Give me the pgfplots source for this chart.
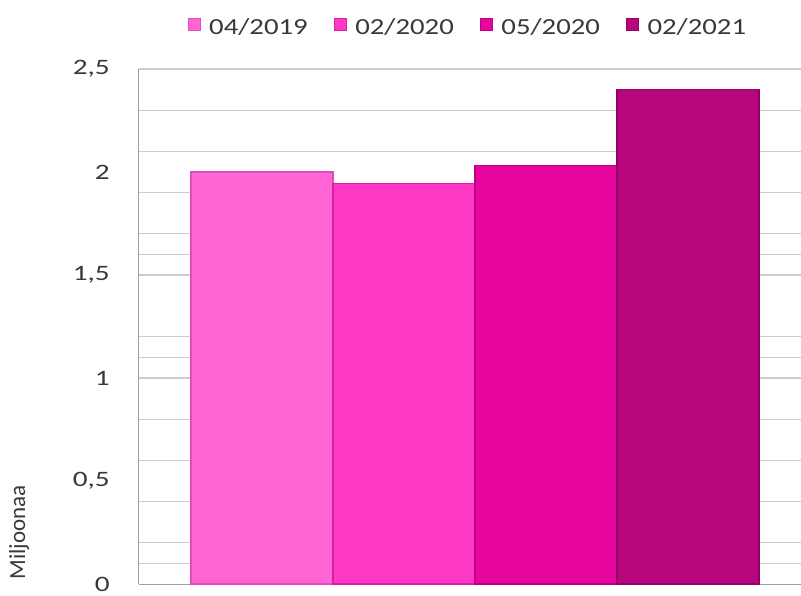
\documentclass[border=0pt]{standalone}
\usepackage{pgfplots}
\pgfplotsset{compat=1.18}
\usepackage{fontspec}
\setmainfont{Carlito}[FakeStretch=1.25]
\newfontfamily\tickfont{Carlito}[FakeStretch=1.33]
\newfontfamily\plainfont{Carlito}
\definecolor{c1}{HTML}{FF66D4}
\definecolor{c1d}{HTML}{E04CB8}
\definecolor{c2}{HTML}{FF38C6}
\definecolor{c2d}{HTML}{D8209E}
\definecolor{c3}{HTML}{E6069F}
\definecolor{c3d}{HTML}{C00084}
\definecolor{c4}{HTML}{B8067F}
\definecolor{c4d}{HTML}{950066}
\definecolor{txt}{HTML}{383838}
\definecolor{gridc}{HTML}{CDCDCD}
\begin{document}
\begin{tikzpicture}
\begin{axis}[
  at={(0,0)}, anchor=south west,
  scale only axis, width=662bp, height=515bp,
  xmin=0.134, xmax=4.796, ymin=0, ymax=2.5,
  axis x line*=bottom, axis y line*=left,
  axis line style={draw=gray!75, line width=1bp},
  xtick=\empty,
  ytick={0,0.5,1,1.5,2,2.5},
  yticklabels={0,{0,5},1,{1,5},2,{2,5}},
  minor ytick={0.1,0.2,0.4,0.6,0.8,1.0,1.1,1.2,1.5,1.6,1.7,1.9,2.1,2.3,2.5},
  yminorgrids=true, ymajorgrids=false,
  minor grid style={draw=gridc, line width=1.3bp},
  major tick length=0pt, minor tick length=0pt,
  yticklabel style={font=\tickfont\fontsize{22bp}{24bp}\selectfont, text=txt, inner sep=0pt, xshift=-29bp},
  ylabel={Miljoonaa},
  every axis y label/.style={at={(rel axis cs:0,0)}, xshift=-120bp, yshift=1bp, rotate=90, anchor=west, font=\plainfont\fontsize{23bp}{25bp}\selectfont, text=txt},
  legend columns=4,
  legend style={at={(0.496,1)}, anchor=center, yshift=42bp, draw=none, fill=none,
    font=\fontsize{23bp}{26bp}\selectfont, text=txt,
    nodes={inner sep=1bp},
    /tikz/every odd column/.append style={column sep=8bp},
    /tikz/every even column/.append style={column sep=25bp}},
  legend image code/.code={\draw[#1, line width=0.6bp] (0bp,-3bp) rectangle (12bp,9bp);},
  clip=false,
]
\addplot[ybar, bar width=142bp, bar shift=0pt, fill=c1, draw=c1d, line width=1.2bp] coordinates {(1,2.00)};
\addlegendentry{04/2019}
\addplot[ybar, bar width=142bp, bar shift=0pt, fill=c2, draw=c2d, line width=1.2bp] coordinates {(2,1.945)};
\addlegendentry{02/2020}
\addplot[ybar, bar width=142bp, bar shift=0pt, fill=c3, draw=c3d, line width=1.2bp] coordinates {(3,2.03)};
\addlegendentry{05/2020}
\addplot[ybar, bar width=142bp, bar shift=0pt, fill=c4, draw=c4d, line width=1.2bp] coordinates {(4,2.40)};
\addlegendentry{02/2021}
\end{axis}
\pgfresetboundingbox
\path[use as bounding box] (-139bp,-12bp) rectangle (662bp,584bp);
\end{tikzpicture}
\end{document}
